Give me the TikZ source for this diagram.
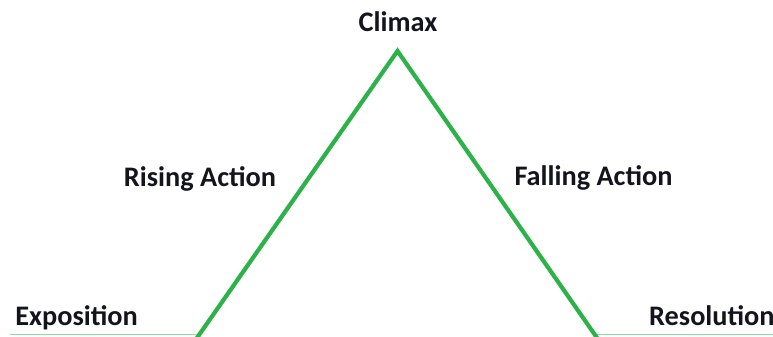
\documentclass[tikz,border=0pt]{standalone}
\usepackage{fontspec}
\setmainfont{Carlito}
\definecolor{linegreen}{RGB}{44,178,72}
\definecolor{basegreen}{RGB}{140,222,165}
\definecolor{txt}{RGB}{20,20,30}
\begin{document}
\begin{tikzpicture}[x=1pt,y=-1pt,
  lbl/.style={font=\fontsize{28.3}{30}\selectfont\bfseries,text=txt,inner sep=0pt,anchor=base},
  arc/.style={draw=linegreen,line width=4.2pt,line join=miter},
  base/.style={draw=basegreen,line width=1.6pt}]
\useasboundingbox (0,0) rectangle (773,337);
\clip (0,0) rectangle (773,337);
\coordinate (L0) at (10,334.5);
\coordinate (L1) at (199,334.5);
\coordinate (R0) at (595,334.5);
\coordinate (R1) at (775,334.5);
\coordinate (A) at (192,345);
\coordinate (P) at (397.5,51);
\coordinate (B) at (602,345);
\draw[base] (L0) -- (L1);
\draw[base] (R0) -- (R1);
\draw[arc] (A) -- (P) -- (B);
\node[lbl] (climax) at (398,32) {Climax};
\node[lbl] (rising) at (200,186.5) {Rising Action};
\node[lbl] (falling) at (593.5,185) {Falling Action};
\node[lbl] (expo) at (76.5,325.5) {Exposition};
\node[lbl,anchor=base west] (reso) at (649,325.5) {Resolution};
\end{tikzpicture}
\end{document}
